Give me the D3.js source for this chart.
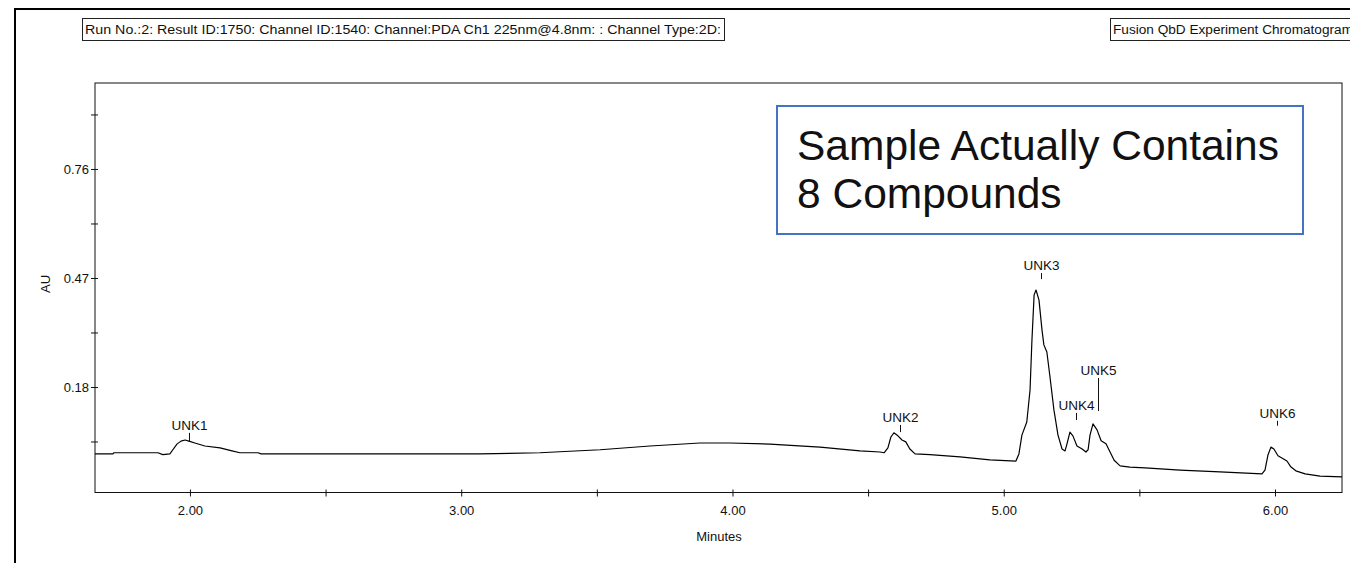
<!DOCTYPE html>
<html>
<head>
<meta charset="utf-8">
<script src="https://cdn.jsdelivr.net/npm/d3@7"></script>
<style>
  body { margin: 0; background: #fff; }
  svg { display: block; }
  text { font-family: "Liberation Sans", Arial, sans-serif; fill: #111; }
</style>
</head>
<body>
<svg id="chart" width="1350" height="563"></svg>
<script>
// chromatogram trace: minutes / AU
const times = [1.650, 1.716, 1.720, 1.882, 1.900, 1.926, 1.937, 1.952, 1.967, 1.982, 1.996, 2.018, 2.055, 2.111, 2.155, 2.184, 2.251, 2.262,
    2.995, 3.069, 3.290, 3.512, 3.696, 3.880, 3.991, 4.138, 4.323, 4.470, 4.544, 4.559,
    4.573, 4.584, 4.595, 4.610, 4.625, 4.639, 4.654, 4.673, 4.728, 4.839, 4.949, 5.045,
    5.056, 5.067, 5.085, 5.097, 5.104, 5.112, 5.119, 5.130, 5.141, 5.148, 5.159, 5.171, 5.185, 5.200, 5.215, 5.226, 5.233,
    5.244, 5.255, 5.270, 5.289, 5.303, 5.311,
    5.318, 5.329, 5.344, 5.359, 5.377, 5.392, 5.407, 5.429, 5.465, 5.521, 5.650, 5.797, 5.952,
    5.963, 5.974, 5.985, 5.996, 6.011, 6.030, 6.044, 6.059, 6.077, 6.111, 6.166, 6.247];
const absorb = [0.002, 0.002, 0.005, 0.005, 0.000, 0.002, 0.013, 0.028, 0.036, 0.039, 0.036, 0.031, 0.023, 0.018, 0.010, 0.005, 0.005, 0.002,
    0.002, 0.002, 0.005, 0.013, 0.023, 0.031, 0.031, 0.028, 0.020, 0.010, 0.007, 0.005,
    0.018, 0.047, 0.058, 0.050, 0.039, 0.034, 0.015, 0.002, 0.000, -0.006, -0.014, -0.017,
    0.002, 0.052, 0.087, 0.172, 0.305, 0.425, 0.438, 0.411, 0.332, 0.292, 0.273, 0.204, 0.119, 0.052, 0.015, 0.010, 0.028,
    0.060, 0.050, 0.023, 0.015, 0.007, 0.013,
    0.052, 0.082, 0.066, 0.037, 0.029, 0.007, -0.015, -0.030, -0.033, -0.035, -0.041, -0.046, -0.051,
    -0.041, -0.001, 0.020, 0.015, -0.003, -0.011, -0.017, -0.033, -0.043, -0.051, -0.057, -0.059];

// peak labels
const peakNames = ["UNK1", "UNK2", "UNK3", "UNK4", "UNK5", "UNK6"];
const peakTimes = [1.996, 4.617, 5.137, 5.266, 5.347, 6.007];
const peakTickTop = [0.058, 0.079, 0.483, 0.111, 0.204, 0.090];
const peakTickBottom = [0.036, 0.060, 0.467, 0.092, 0.116, 0.077];

// axes
const xTicks = [2, 2.5, 3, 3.5, 4, 4.5, 5, 5.5, 6];
const xLabelled = [2, 3, 4, 5, 6];
const yTicks = [0.035, 0.18, 0.325, 0.47, 0.615, 0.76, 0.905];
const yLabelled = [0.18, 0.47, 0.76];
const xDomain = [1.65, 6.247];
const yDomain = [-0.1007, 0.9887];

const headerLeft = "Run No.:2: Result ID:1750: Channel ID:1540: Channel:PDA Ch1 225nm@4.8nm: : Channel Type:2D:";
const headerRight = "Fusion QbD Experiment Chromatogram";
const noteLines = ["Sample Actually Contains", "8 Compounds"];

let svg = d3.select("#chart");

// outer window frame
svg.append("path")
    .attr("d", "M15,600 L15,9 L1400,9")
    .attr("fill", "none")
    .attr("stroke", "#000")
    .attr("stroke-width", 2);

// header boxes
svg.append("rect").attr("x", 82.5).attr("y", 18.5).attr("width", 642).attr("height", 22)
    .attr("fill", "none").attr("stroke", "#222");
svg.append("text").attr("x", 85).attr("y", 34).style("font-size", "12.5px")
    .attr("textLength", 636).attr("lengthAdjust", "spacingAndGlyphs")
    .text(headerLeft);
svg.append("rect").attr("x", 1110.5).attr("y", 18.5).attr("width", 300).attr("height", 22)
    .attr("fill", "none").attr("stroke", "#222");
svg.append("text").attr("x", 1113).attr("y", 34).style("font-size", "12.5px")
    .attr("textLength", 240).attr("lengthAdjust", "spacingAndGlyphs")
    .text(headerRight);

let plotLeft = 95, plotRight = 1342, plotTop = 83, plotBottom = 492.5;

let x = d3.scaleLinear().domain(xDomain).range([plotLeft, plotRight]);
let y = d3.scaleLinear().domain(yDomain).range([plotBottom, plotTop]);

// plot frame
svg.append("rect")
    .attr("x", plotLeft).attr("y", plotTop)
    .attr("width", plotRight - plotLeft).attr("height", plotBottom - plotTop)
    .attr("fill", "none").attr("stroke", "#111").attr("stroke-width", 1);

let xAxis = d3.axisBottom(x)
    .tickValues(xTicks)
    .tickSize(4)
    .tickSizeOuter(0)
    .tickPadding(9)
    .tickFormat(d => xLabelled.includes(d) ? d3.format(".2f")(d) : "");

let gx = svg.append("g")
    .attr("transform", `translate(0,${plotBottom})`)
    .call(xAxis);
gx.select(".domain").remove();
gx.selectAll(".tick line").attr("y1", -3).attr("stroke", "#111");
gx.selectAll("text").style("font-size", "13px").attr("fill", "#111");

let yAxis = d3.axisLeft(y)
    .tickValues(yTicks)
    .tickSize(4)
    .tickSizeOuter(0)
    .tickPadding(2)
    .tickFormat(d => yLabelled.includes(d) ? d3.format(".2f")(d) : "");

let gy = svg.append("g")
    .attr("transform", `translate(${plotLeft},0)`)
    .call(yAxis);
gy.select(".domain").remove();
gy.selectAll(".tick line").attr("x1", 3).attr("stroke", "#111");
gy.selectAll("text").style("font-size", "13px").attr("fill", "#111");

// axis titles
svg.append("text")
    .attr("transform", `translate(50,${y(0.47) + 6}) rotate(-90)`)
    .attr("text-anchor", "middle")
    .style("font-size", "13px")
    .attr("fill", "#223")
    .text("AU");
svg.append("text")
    .attr("x", 719).attr("y", 541)
    .attr("text-anchor", "middle")
    .style("font-size", "13px")
    .text("Minutes");

// trace
let trace = times.map((t, i) => [t, absorb[i]]);
let line = d3.line()
    .x(d => x(d[0]))
    .y(d => y(d[1]));

svg.append("path")
    .datum(trace)
    .attr("d", line)
    .attr("fill", "none")
    .attr("stroke", "#000")
    .attr("stroke-width", 1.2)
    .attr("stroke-linejoin", "round");

// peak labels with their marker ticks
peakNames.forEach((name, i) => {
    let px = Math.round(x(peakTimes[i])) + 0.5;
    svg.append("line")
        .attr("x1", px).attr("x2", px)
        .attr("y1", y(peakTickTop[i])).attr("y2", y(peakTickBottom[i]))
        .attr("stroke", "#111");
    svg.append("text")
        .attr("x", px).attr("y", y(peakTickTop[i]) - 3)
        .attr("text-anchor", "middle")
        .style("font-size", "13.5px")
        .text(name);
});

// note box
svg.append("rect")
    .attr("x", 777).attr("y", 106)
    .attr("width", 526).attr("height", 128)
    .attr("fill", "#fff")
    .attr("stroke", "#4472C4")
    .attr("stroke-width", 2);
noteLines.forEach((s, i) => {
    svg.append("text")
        .attr("x", 797).attr("y", 160 + i * 48)
        .style("font-size", "42.5px")
        .attr("fill", "#000")
        .text(s);
});
</script>
</body>
</html>
